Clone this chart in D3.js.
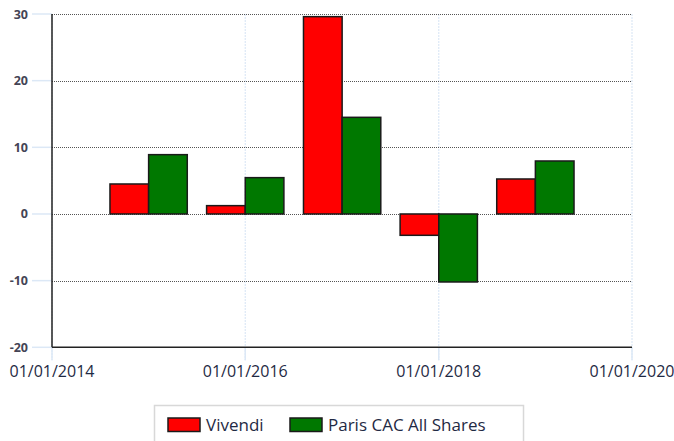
<!DOCTYPE html>
<html><head><meta charset="utf-8">
<script src="https://cdn.jsdelivr.net/npm/d3@7"></script>
<style>body{margin:0;background:#fff;}svg{display:block;}</style>
</head><body>
<svg id="c" width="674" height="441"></svg>
<script>
const dates = ["2015-01-01","2016-01-01","2017-01-01","2018-01-01","2019-01-01"];
const seriesNames = ["Vivendi","Paris CAC All Shares"];
const seriesColors = ["#ff0000","#007800"];
const vivendi = [4.5, 1.25, 29.6, -3.2, 5.25];
const cac = [8.9, 5.45, 14.5, -10.2, 7.95];
const yTicks = [-20,-10,0,10,20,30];
const xTicks = ["2014-01-01","2016-01-01","2018-01-01","2020-01-01"];

const parse = d3.utcParse("%Y-%m-%d");
const fmt = d3.utcFormat("%d/%m/%Y");
const svg = d3.select("#c");
const L=52, R=632, T=14, B=347.3;
const x = d3.scaleUtc().domain([parse("2014-01-01"), parse("2020-01-01")]).range([L,R]);
const y = d3.scaleLinear().domain([-20,30]).range([B,T]);
const bw = (x(parse("2016-01-01"))-x(parse("2014-01-01")))*0.2;

// y tick marks (light blue)
svg.append("g").selectAll("line").data(yTicks).join("line")
  .attr("x1",32).attr("x2",L).attr("y1",d=>y(d)).attr("y2",d=>y(d))
  .attr("stroke","#dce8f6").attr("stroke-width",1.5);
// vertical grid (light blue dotted) + ticks
svg.append("g").selectAll("line").data(xTicks).join("line")
  .attr("x1",d=>x(parse(d))).attr("x2",d=>x(parse(d)))
  .attr("y1",T).attr("y2",B+13)
  .attr("stroke","#dce8f6").attr("stroke-width",1.2)
  .attr("stroke-dasharray","2,1");
svg.append("g").selectAll("line").data(xTicks).join("line")
  .attr("x1",d=>x(parse(d))).attr("x2",d=>x(parse(d)))
  .attr("y1",B).attr("y2",B+13)
  .attr("stroke","#dce8f6").attr("stroke-width",1.5);
// horizontal grid
svg.append("g").selectAll("line").data(yTicks.filter(d=>d>-20)).join("line")
  .attr("x1",L).attr("x2",R).attr("y1",d=>Math.round(y(d))+0.5).attr("y2",d=>Math.round(y(d))+0.5)
  .attr("stroke","#555").attr("stroke-width",1).attr("stroke-dasharray","1,1");

// bars
const series=[vivendi,cac];
series.forEach((vals,si)=>{
  svg.append("g").selectAll("rect").data(vals).join("rect")
    .attr("x",(d,i)=>x(parse(dates[i])) + (si===0?-bw:0))
    .attr("width",bw)
    .attr("y",d=>y(Math.max(0,d)))
    .attr("height",d=>Math.abs(y(d)-y(0)))
    .attr("fill",seriesColors[si]).attr("stroke","#1a1a1a").attr("stroke-width",1.5);
});

// axes lines
svg.append("line").attr("x1",L).attr("x2",L).attr("y1",T).attr("y2",B).attr("stroke","#222").attr("stroke-width",1.5);
svg.append("line").attr("x1",L).attr("x2",R).attr("y1",B).attr("y2",B).attr("stroke","#222").attr("stroke-width",1.5);

// y labels
svg.append("g").selectAll("text").data(yTicks).join("text")
  .attr("x",28).attr("y",d=>y(d)).attr("dy","0.36em").attr("text-anchor","end")
  .attr("font-family","Open Sans").attr("font-weight","bold").attr("font-size",12.5)
  .attr("fill","#444455").text(d=>d);
// x labels
svg.append("g").selectAll("text").data(xTicks).join("text")
  .attr("x",d=>x(parse(d))).attr("y",377).attr("text-anchor","middle")
  .attr("font-family","Open Sans").attr("font-size",16)
  .attr("fill","#1f2a44").text(d=>fmt(parse(d)));

// legend
svg.append("rect").attr("x",154.5).attr("y",405.5).attr("width",369).attr("height",50)
  .attr("fill","#fff").attr("stroke","#d8d8d8").attr("stroke-width",1.5);
const legX=[168,290];
seriesNames.forEach((n,i)=>{
  svg.append("rect").attr("x",legX[i]).attr("y",418).attr("width",32).attr("height",13.5)
    .attr("fill",seriesColors[i]).attr("stroke","#1a1a1a").attr("stroke-width",1.5);
  svg.append("text").attr("x",legX[i]+38).attr("y",430.5).attr("font-family","Open Sans")
    .attr("font-size",17).attr("fill","#1f2a44").text(n);
});
</script>
</body></html>
